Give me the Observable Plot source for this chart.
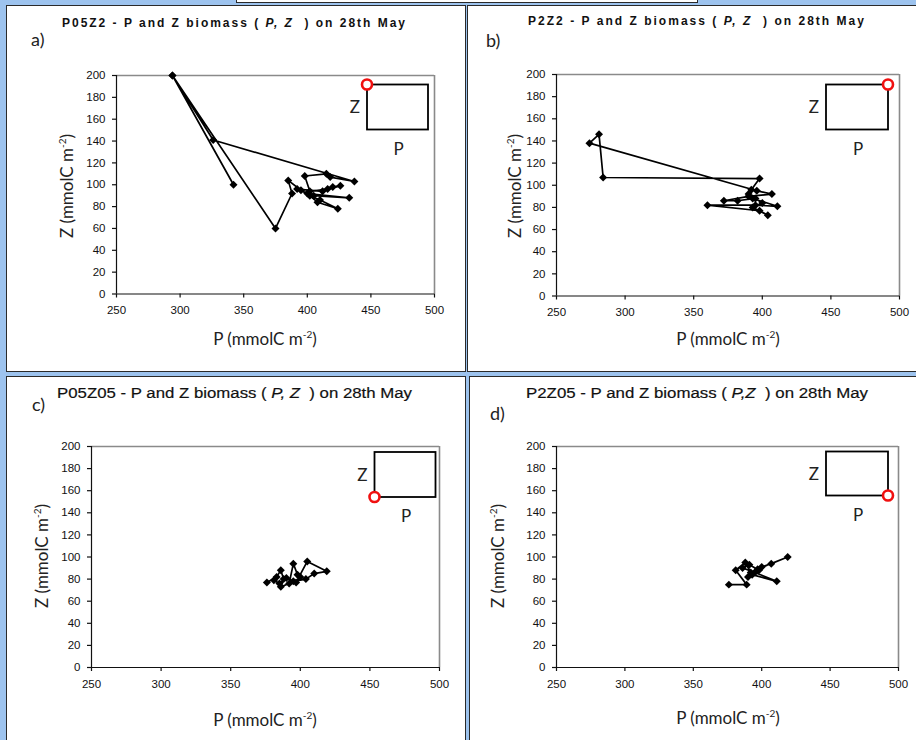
<!DOCTYPE html>
<html>
<head>
<meta charset="utf-8">
<script src="https://cdn.jsdelivr.net/npm/d3@7"></script>
<script src="https://cdn.jsdelivr.net/npm/@observablehq/plot@0.6"></script>
<style>
  html, body { margin:0; padding:0; }
  body { width:916px; height:740px; background:#9dc3ee; position:relative; overflow:hidden; font-family:"Liberation Sans", Arial, sans-serif; }
  .panel { position:absolute; background:#fff; border:1.5px solid #2a2a2a; box-sizing:border-box; }
  .abs { position:absolute; white-space:nowrap; }
  .ttl { font-family:"Liberation Sans", Arial, sans-serif; font-weight:bold; font-size:12px; color:#111; }
  .ttl2 { font-family:"Liberation Sans", Arial, sans-serif; font-weight:normal; font-size:15.5px; color:#111; -webkit-text-stroke:0.2px #111; transform-origin:0 0; }
  .tag { font-family:"Lato", "Noto Sans", sans-serif; font-size:18px; color:#222; }
  .axl { font-family:"Lato", "Noto Sans", sans-serif; font-size:17px; color:#222; }
  .axl sup { font-size:10px; vertical-align:7px; line-height:0; }
  svg.plot { position:absolute; overflow:visible; }
</style>
</head>
<body>
<script>
// ---------- data ----------
const xTicks = [250, 300, 350, 400, 450, 500];
const yTicks = [0, 20, 40, 60, 80, 100, 120, 140, 160, 180, 200];

const panelIds = ["a", "b", "c", "d"];
const panelCodes = ["P05Z2", "P2Z2", "P05Z05", "P2Z05"];
const insetCorners = ["top-left", "top-right", "bottom-left", "bottom-right"];

const aP = [342, 294, 375, 388, 385, 395, 402, 410, 424, 408, 400, 433, 405, 392, 412, 420, 426, 416, 402, 398, 415, 418, 437, 326, 294];
const aZ = [100, 200, 60, 92, 104, 95, 90, 86, 78, 84, 92, 88, 90, 96, 94, 98, 99, 96, 94, 108, 110, 107, 103, 141, 200];

const bP = [396, 274, 281, 284, 398, 392, 407, 390, 372, 382, 393, 411, 395, 360, 398, 404, 393, 400, 390, 395];
const bZ = [95, 138, 146, 107, 106, 96, 92, 90, 86, 86, 88, 81, 82, 82, 77, 73, 80, 84, 92, 88];

const cP = [376, 383, 386, 388, 386, 392, 395, 398, 400, 397, 405, 419, 410, 404, 395, 390, 385, 381];
const cZ = [77, 82, 88, 80, 73, 76, 94, 84, 82, 77, 96, 87, 85, 80, 78, 81, 76, 79];

const dP = [376, 389, 381, 388, 392, 400, 407, 419, 397, 393, 411, 395, 386, 391, 398, 390];
const dZ = [75, 75, 88, 95, 86, 91, 94, 100, 89, 84, 78, 86, 90, 93, 88, 82];

const seriesP = [aP, bP, cP, dP];
const seriesZ = [aZ, bZ, cZ, dZ];

// ---------- layout (page pixels) ----------
const panelBoxes = [
  {l: 6, t: 5, w: 460, h: 367},
  {l: 467, t: 5, w: 452, h: 367},
  {l: 6, t: 376, w: 460, h: 368},
  {l: 469, t: 376, w: 450, h: 368}
];
const plotAreas = [
  {x0: 116, x1: 434, y0: 74.5, y1: 293},
  {x0: 556, x1: 899, y0: 73.5, y1: 295},
  {x0: 91, x1: 439, y0: 446, y1: 667},
  {x0: 556, x1: 898, y0: 446, y1: 667}
];
const titleLayout = [
  {x: 62, y: 16, x1: 407, cls: "ttl"},
  {x: 528, y: 14, x1: 866, cls: "ttl"},
  {x: 57, y: 384, x1: 412, cls: "ttl2"},
  {x: 526, y: 384, x1: 868, cls: "ttl2"}
];
const tagLayout = [{x: 31, y: 28}, {x: 486, y: 29}, {x: 32, y: 393}, {x: 490, y: 402}];
const zLabelLayout = [{x: 66, y: 186}, {x: 514, y: 186}, {x: 41, y: 556}, {x: 497, y: 556}];
const pLabelLayout = [{x: 265, y: 338}, {x: 728, y: 338}, {x: 265, y: 719}, {x: 728, y: 717}];
const insetLayout = [
  {x0: 367, x1: 428, y0: 84.5, y1: 129.5},
  {x0: 826, x1: 888, y0: 84.5, y1: 129.5},
  {x0: 374.5, x1: 435.5, y0: 452, y1: 497},
  {x0: 826, x1: 888, y0: 451.5, y1: 495.5}
];

// top strip of another window
const strip = document.createElement("div");
strip.className = "panel";
Object.assign(strip.style, {left: "236px", top: "-12px", width: "462px", height: "15px"});
document.body.appendChild(strip);

panelIds.forEach((id, i) => {
  const pb = panelBoxes[i];
  const panel = document.createElement("div");
  panel.className = "panel";
  Object.assign(panel.style, {left: pb.l + "px", top: pb.t + "px", width: pb.w + "px", height: pb.h + "px"});
  document.body.appendChild(panel);
});

panelIds.forEach((id, i) => {
  const area = plotAreas[i];
  const ml = 60, mr = 20, mt = 15, mb = 30;
  const data = seriesP[i].map((p, k) => ({P: p, Z: seriesZ[i][k]}));
  const chart = Plot.plot({
    width: (area.x1 - area.x0) + ml + mr,
    height: (area.y1 - area.y0) + mt + mb,
    marginLeft: ml, marginRight: mr, marginTop: mt, marginBottom: mb,
    style: {fontFamily: "Liberation Sans, Arial, sans-serif", fontSize: "11.5px", color: "#111", background: "transparent", overflow: "visible"},
    x: {domain: [250, 500]},
    y: {domain: [0, 200]},
    marks: [
      Plot.ruleX([500], {stroke: "#8a8a8a", strokeWidth: 1.6}),
      Plot.ruleY([200], {stroke: "#8a8a8a", strokeWidth: 1.6}),
      Plot.axisX({ticks: xTicks, tickSize: 4, tickPadding: 8, label: null, stroke: "#111", strokeWidth: 1.2, fill: "#111"}),
      Plot.axisY({ticks: yTicks, tickSize: 4, tickPadding: 7, label: null, stroke: "#111", strokeWidth: 1.2, fill: "#111"}),
      Plot.ruleX([250], {stroke: "#111", strokeWidth: 1.2}),
      Plot.ruleY([0], {stroke: "#111", strokeWidth: 1.2}),
      Plot.line(data, {x: "P", y: "Z", stroke: "#000", strokeWidth: 1.7}),
      Plot.dot(data, {x: "P", y: "Z", symbol: "diamond2", r: 3.6, fill: "#000", stroke: "none"})
    ]
  });
  chart.classList.add("plot");
  chart.style.left = (area.x0 - ml) + "px";
  chart.style.top = (area.y0 - mt) + "px";
  document.body.appendChild(chart);

  // title
  const tl = titleLayout[i];
  const t = document.createElement("div");
  t.className = "abs " + tl.cls;
  t.style.left = tl.x + "px"; t.style.top = tl.y + "px";
  const sep = i === 3 ? "," : ", ";
  t.innerHTML = panelCodes[i] + " - P and Z biomass ( <i>P" + sep + "Z</i>&nbsp; ) on 28th May";
  document.body.appendChild(t);
  const natural = t.getBoundingClientRect().width;
  const target = tl.x1 - tl.x;
  if (tl.cls === "ttl") {
    const n = t.textContent.length;
    t.style.letterSpacing = ((target - natural) / n) + "px";
  } else {
    t.style.transform = "scaleX(" + (target / natural) + ")";
  }

  // panel tag
  const g = document.createElement("div");
  g.className = "abs tag";
  g.style.left = tagLayout[i].x + "px"; g.style.top = tagLayout[i].y + "px";
  g.textContent = id + ")";
  document.body.appendChild(g);

  // axis labels
  const zl = document.createElement("div");
  zl.className = "abs axl";
  zl.innerHTML = "Z (mmolC m<sup>-2</sup>)";
  zl.style.left = zLabelLayout[i].x + "px"; zl.style.top = zLabelLayout[i].y + "px";
  zl.style.transform = "translate(-50%,-50%) rotate(-90deg)";
  document.body.appendChild(zl);

  const pl = document.createElement("div");
  pl.className = "abs axl";
  pl.innerHTML = "P (mmolC m<sup>-2</sup>)";
  pl.style.left = pLabelLayout[i].x + "px"; pl.style.top = pLabelLayout[i].y + "px";
  pl.style.transform = "translate(-50%,-50%)";
  document.body.appendChild(pl);
});

// insets: phase-space key with the initial condition corner
const ov = d3.select("body").append("svg")
  .attr("width", 916).attr("height", 740)
  .style("position", "absolute").style("left", "0px").style("top", "0px");
insetCorners.forEach((corner, i) => {
  const b = insetLayout[i];
  ov.append("rect").attr("x", b.x0).attr("y", b.y0).attr("width", b.x1 - b.x0).attr("height", b.y1 - b.y0)
    .attr("fill", "none").attr("stroke", "#000").attr("stroke-width", 1.8);
  ov.append("text").attr("x", b.x0 - 7).attr("y", (b.y0 + b.y1) / 2 + 6).attr("text-anchor", "end")
    .attr("font-family", "Lato, Noto Sans, sans-serif").attr("font-size", 17).attr("fill", "#222").text("Z");
  ov.append("text").attr("x", (b.x0 + b.x1) / 2 + 1).attr("y", b.y1 + 25).attr("text-anchor", "middle")
    .attr("font-family", "Lato, Noto Sans, sans-serif").attr("font-size", 17).attr("fill", "#222").text("P");
  const cx = corner.endsWith("left") ? b.x0 : b.x1;
  const cy = corner.startsWith("top") ? b.y0 : b.y1;
  ov.append("circle").attr("cx", cx).attr("cy", cy).attr("r", 5)
    .attr("fill", "#fff").attr("stroke", "#f01010").attr("stroke-width", 2.6);
});
</script>
</body>
</html>
